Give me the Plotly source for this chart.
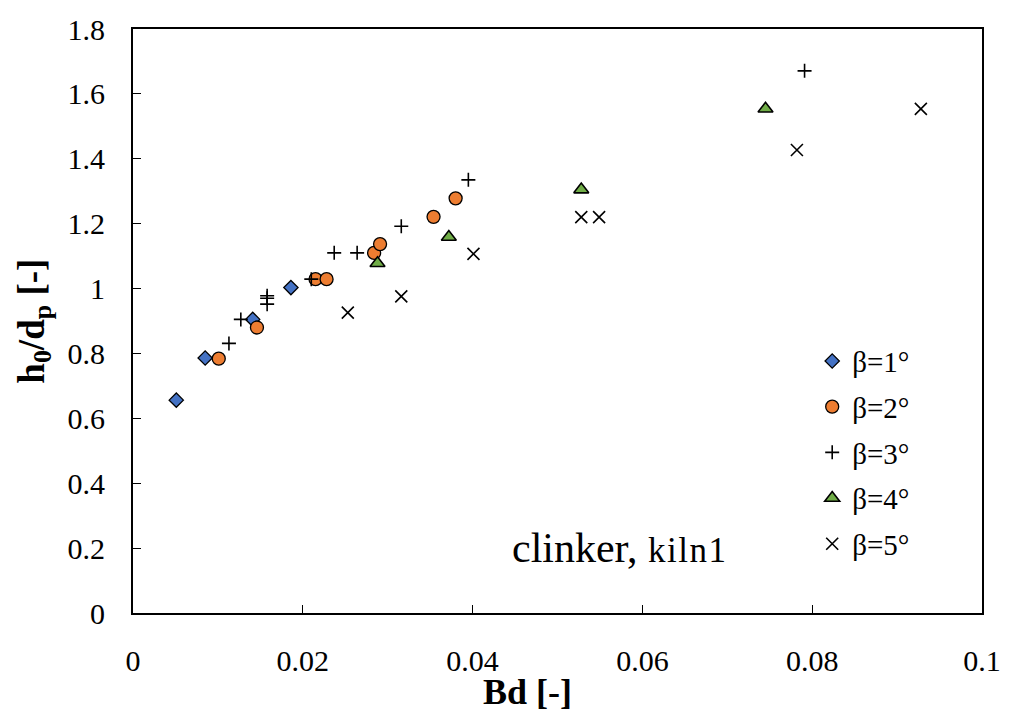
import plotly.graph_objects as go

# Bd [-] and h0/dp [-] for each kiln inclination angle
bd_b1 = [0.0051, 0.0085, 0.0141, 0.0186]
h_b1 = [0.656, 0.786, 0.905, 1.003]

bd_b2 = [0.0101, 0.0146, 0.0215, 0.0228, 0.0284, 0.0291, 0.0354, 0.0380]
h_b2 = [0.784, 0.880, 1.029, 1.029, 1.110, 1.137, 1.221, 1.278]

bd_b3 = [0.0113, 0.0127, 0.0158, 0.0158, 0.0158, 0.0210, 0.0237, 0.0264, 0.0316, 0.0395, 0.0791]
h_b3 = [0.831, 0.905, 0.978, 0.970, 0.952, 1.029, 1.110, 1.110, 1.192, 1.335, 1.671]

bd_b4 = [0.0288, 0.0372, 0.0528, 0.0745]
h_b4 = [1.078, 1.159, 1.305, 1.554]

bd_b5 = [0.0253, 0.0316, 0.0401, 0.0528, 0.0549, 0.0782, 0.0928]
h_b5 = [0.926, 0.976, 1.107, 1.220, 1.220, 1.427, 1.554]

series_names = ["β=1°", "β=2°", "β=3°", "β=4°", "β=5°"]

FONT = "Liberation Serif"

fig = go.Figure()

styles = [
    dict(symbol="diamond", size=11, color="#4472C4", line=dict(color="black", width=1.3)),
    dict(symbol="circle", size=13, color="#ED7D31", line=dict(color="black", width=1.3)),
    dict(symbol="cross-thin", size=10, color="black", line=dict(color="black", width=1.6)),
    dict(symbol="triangle-up", size=13, color="#70AD47", line=dict(color="black", width=1.6)),
    dict(symbol="x-thin", size=12, color="black", line=dict(color="black", width=1.6)),
]
data = [(bd_b1, h_b1), (bd_b2, h_b2), (bd_b3, h_b3), (bd_b4, h_b4), (bd_b5, h_b5)]

for i, ((xs, ys), name, st) in enumerate(zip(data, series_names, styles)):
    fig.add_trace(go.Scatter(
        x=xs, y=ys, mode="markers", name=name,
        legendgroup=f"g{i}",
        marker=st,
    ))

axis_common = dict(
    showgrid=False, zeroline=False,
    showline=True, linecolor="black", linewidth=2, mirror=True,
    ticks="inside", ticklen=8, tickwidth=1.3, tickcolor="black",
    tickfont=dict(family=FONT, size=30, color="black"),
)

fig.update_xaxes(range=[0, 0.1], dtick=0.02, ticklabelstandoff=20, **axis_common)
fig.update_yaxes(range=[0, 1.8], dtick=0.2, ticklabelstandoff=20, **axis_common)

fig.update_layout(
    width=1013, height=720,
    margin=dict(l=133, r=22, t=23, b=107),
    paper_bgcolor="white", plot_bgcolor="white",
    font=dict(family=FONT, color="black"),
    legend=dict(
        x=0.80, y=0.475, xanchor="left", yanchor="top",
        font=dict(family=FONT, size=29, color="black"),
        traceorder="grouped", tracegroupgap=5,
        bgcolor="rgba(0,0,0,0)",
    ),
    annotations=[
        dict(text="<b>Bd [-]</b>", xref="paper", yref="paper", x=0.465, y=-0.135,
             xanchor="center", yanchor="middle", showarrow=False,
             font=dict(family=FONT, size=36, color="black")),
        dict(text="<b>h<sub>0</sub>/d<sub>p</sub> [-]</b>", xref="paper", yref="paper",
             x=-0.117, y=0.5, xanchor="center", yanchor="middle", textangle=-90,
             showarrow=False, font=dict(family=FONT, size=37, color="black")),
        dict(text="clinker, <span style='font-size:35px;letter-spacing:1.5px'>kiln1</span>",
             xref="paper", yref="paper",
             x=0.444, y=0.112, xanchor="left", yanchor="middle", showarrow=False,
             font=dict(family=FONT, size=42, color="black")),
    ],
)

fig.write_html("out.html")
